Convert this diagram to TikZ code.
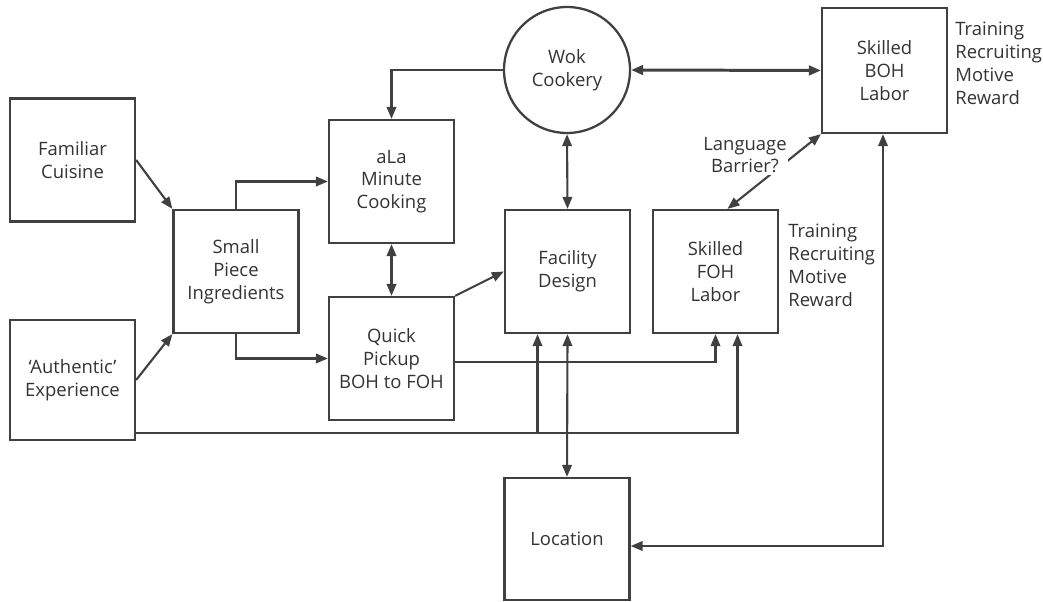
\documentclass[tikz,border=0pt]{standalone}
\usepackage{fontspec}
\setmainfont{Open Sans}
\usepackage{tikz}
\usetikzlibrary{arrows.meta}

\begin{document}
\begin{tikzpicture}[x=0.02cm, y=-0.02cm,
		>={Triangle[length=0.24cm, width=0.19cm]},
		every node/.style={font=\fontsize{10.5}{13}\selectfont, text=black!80, align=center},
		block/.style={rectangle, draw=black!75, line width=1.3pt, minimum width=2.5cm, minimum height=2.46cm, inner sep=2pt},
		link/.style={draw=black!75, line width=1.2pt}]
	\useasboundingbox (0,0) rectangle (1043,601);
	% Nodes
	\node[block] (fam) at (72.5,160) {Familiar\\Cuisine};
	\node[block, minimum height=2.4cm] (auth) at (72.5,380) {`Authentic'\\Experience};
	\node[block] (small) at (236,271.5) {Small\\Piece\\Ingredients};
	\node[block] (ala) at (391.5,181.5) {aLa\\Minute\\Cooking};
	\node[block] (quick) at (391.5,358.5) {Quick\\Pickup\\BOH to FOH};
	\node[circle, draw=black!75, line width=1.3pt, minimum size=2.52cm, inner sep=0pt] (wok) at (567,70) {Wok\\Cookery};
	\node[block] (fac) at (567.5,271.5) {Facility\\Design};
	\node[block, minimum height=2.5cm] (boh) at (884.5,70.5) {Skilled\\BOH\\Labor};
	\node[block] (foh) at (715.5,271.5) {Skilled\\FOH\\Labor};
	\node[block, minimum height=2.44cm] (loc) at (567,539) {Location};
	\node[anchor=north west, align=left, inner sep=0pt] (bohnote) at (955,22) {Training\\Recruiting\\Motive\\Reward};
	\node[anchor=north west, align=left, inner sep=0pt] (fohnote) at (788,224) {Training\\Recruiting\\Motive\\Reward};

	% Edges
	\draw[link, ->] (fam.east) -- (small.north west);
	\draw[link, ->] (auth.east) -- (small.south west);
	\draw[link, ->] (small.north) |- (ala.west);
	\draw[link, ->] (small.south) |- (quick.west);
	\draw[link, ->] (wok.west) -| (ala.north);
	\draw[link, <->, line width=1.7pt] (wok.east) -- (boh.west);
	\draw[link, <->] (wok.south) -- (fac.north);
	\draw[link, <->] (ala.south) -- (quick.north);
	\draw[link, ->] (quick.north east) -- (fac.west);
	\draw[link, <->] ([xshift=0.24cm]foh.north) -- (boh.south west);
	\node[fill=white, inner sep=1pt] (lang) at (745,155) {Language\\Barrier?};

	\coordinate (authout) at ([yshift=0.16cm]auth.south east);
	\coordinate (facin) at ([xshift=-0.6cm]fac.south);
	\coordinate (fohin) at ([xshift=0.44cm]foh.south);
	\draw[link, ->] (authout) -| (fohin);
	\draw[link, ->] (authout -| facin) -- (facin);
	\draw[link, ->] ([yshift=-0.07cm]quick.east) -| (foh.south);
	\draw[link, <->] (fac.south) -- (loc.north);
	\draw[link, <->] ([xshift=-0.03cm]boh.south) |- ([yshift=-0.14cm]loc.east);
\end{tikzpicture}
\end{document}
